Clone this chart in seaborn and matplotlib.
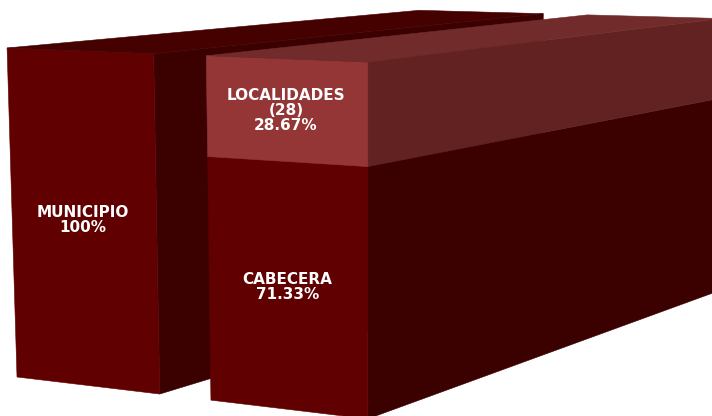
import numpy as np
import pandas as pd
import matplotlib
matplotlib.use("Agg")
import matplotlib.pyplot as plt
from matplotlib.patches import Polygon
import seaborn as sns

# values
columnas = ["municipio", "desglose"]
segmentos = [["MUNICIPIO"], ["CABECERA", "LOCALIDADES\n(28)"]]
valores = [[100], [71.33, 28.67]]

# face colours: front, side, top
color_oscuro = ("#600000", "#3b0000", "#450000")
color_claro = ("#953636", "#632222", "#722b2b")
colores = [[color_oscuro], [color_oscuro, color_claro]]

# perspective camera (vanishing points in image pixels)
origen = np.array([17.0, 377.0])
fuga_x = np.array([-4080.0, -112.0])
fuga_y = np.array([368.0, 12000.0])
fuga_z = np.array([1845.0, -120.0])
esc_x, esc_y, esc_z = -0.0452, -0.0002753, 0.281
ancho_barra = 0.745


def proyectar(x, y, z):
    # x in category units from the first bar's left edge, y in percent, z 0-1 depth
    tx, ty, tz = esc_x * x, esc_y * y, esc_z * z
    w = 1 + tx + ty + tz
    return (origen + tx * fuga_x + ty * fuga_y + tz * fuga_z) / w


def cara(ax, puntos, color):
    ax.add_patch(Polygon(puntos, closed=True, facecolor=color, edgecolor=color, linewidth=0.4))


sns.set_theme(style="white")
fig = plt.figure(figsize=(7.12, 4.16), dpi=100)

# seaborn lays out the bars on a flat helper axes, they get projected afterwards
plano = fig.add_axes([0, 0, 1, 1])
df = pd.DataFrame({"columna": columnas, "total": [sum(v) for v in valores]})
sns.barplot(data=df, x="columna", y="total", width=ancho_barra, ax=plano)
barras = [(p.get_x() + ancho_barra / 2, p.get_width()) for p in plano.patches]
fig.delaxes(plano)

ax = fig.add_axes([0, 0, 1, 1])
ax.set_xlim(0, 712)
ax.set_ylim(416, 0)
ax.axis("off")

for (x0, ancho), nombres, vals, cols in zip(barras, segmentos, valores, colores):
    x1 = x0 + ancho
    base = 0
    for nombre, v, (frente, lado, arriba) in zip(nombres, vals, cols):
        tope = base + v
        cara(ax, [proyectar(x1, base, 0), proyectar(x1, tope, 0), proyectar(x1, tope, 1), proyectar(x1, base, 1)], lado)
        cara(ax, [proyectar(x0, base, 0), proyectar(x1, base, 0), proyectar(x1, tope, 0), proyectar(x0, tope, 0)], frente)
        if tope == sum(vals):
            cara(ax, [proyectar(x0, tope, 0), proyectar(x1, tope, 0), proyectar(x1, tope, 1), proyectar(x0, tope, 1)], arriba)
        cx, cy = proyectar((x0 + x1) / 2, base + v / 2, 0)
        ax.text(cx, cy, f"{nombre}\n{v:g}%", color="white", fontsize=11, fontweight="bold",
                family="DejaVu Sans", ha="center", va="center", linespacing=1.0)
        base = tope

fig.savefig("out.png", dpi=100)
